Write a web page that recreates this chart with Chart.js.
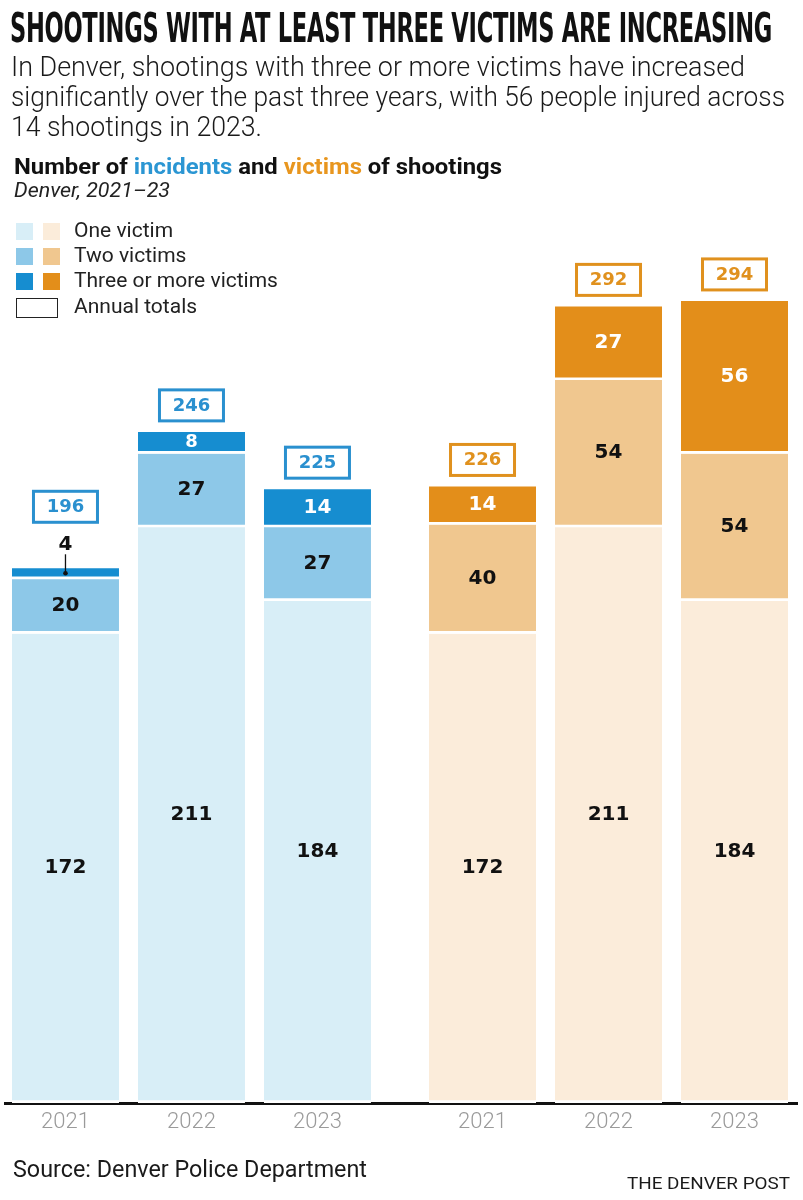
<!DOCTYPE html>
<html>
<head>
<meta charset="utf-8">
<script src="https://cdn.jsdelivr.net/npm/chart.js"></script>
<style>
    body { margin: 0; background: #fff; }
    #wrap { position: relative; width: 803px; height: 1200px; overflow: hidden; }
    #chart { position: absolute; left: 0; top: 0; }
    .txt { position: absolute; white-space: nowrap; color: #111; transform-origin: 0 0; }
    #title { left: 10px; top: 4px; font-family: "Liberation Sans Narrow", "DejaVu Sans Condensed", sans-serif; font-weight: bold; font-size: 41px; letter-spacing: -0.5px; }
    .sub { left: 11px; font-family: Roboto, sans-serif; font-weight: 300; font-size: 28px; color: #1a1a1a; }
    #head { left: 14px; top: 154px; font-family: Roboto, sans-serif; font-weight: bold; font-size: 22px; }
    #dek { left: 14px; top: 178px; font-family: Roboto, sans-serif; font-style: italic; font-size: 21px; color: #222; }
    .sw { position: absolute; width: 17px; height: 17px; }
    .lg { position: absolute; left: 74px; font-family: Roboto, sans-serif; font-size: 21px; color: #222; }
    #src { left: 13px; top: 1155px; font-family: "Liberation Sans Narrow", Roboto, sans-serif; font-size: 24px; color: #1a1a1a; }
    #brand { left: 627px; top: 1173px; font-family: "Liberation Sans Narrow", Roboto, sans-serif; font-size: 17px; color: #1a1a1a; }
</style>
</head>
<body>
<div id="wrap">
    <canvas id="chart" width="803" height="1200"></canvas>

    <div class="txt fit" id="title" data-w="762">SHOOTINGS WITH AT LEAST THREE VICTIMS ARE INCREASING</div>
    <div class="txt sub fit" style="top:50px" data-w="734">In Denver, shootings with three or more victims have increased</div>
    <div class="txt sub fit" style="top:80px" data-w="774">significantly over the past three years, with 56 people injured across</div>
    <div class="txt sub fit" style="top:110px" data-w="251">14 shootings in 2023.</div>

    <div class="txt fit" id="head" data-w="488">Number of <span style="color:#2b96d3">incidents</span> and <span style="color:#e8961f">victims</span> of shootings</div>
    <div class="txt fit" id="dek" data-w="156">Denver, 2021–23</div>

    <div class="sw" style="left:16px;top:223px;background:#d8eef7"></div>
    <div class="sw" style="left:43px;top:223px;background:#fbecda"></div>
    <div class="sw" style="left:16px;top:248px;background:#8dc8e8"></div>
    <div class="sw" style="left:43px;top:248px;background:#f0c78f"></div>
    <div class="sw" style="left:16px;top:273px;background:#168dd0"></div>
    <div class="sw" style="left:43px;top:273px;background:#e38e1a"></div>
    <div class="sw" style="left:16px;top:298px;width:40px;height:18px;border:1.5px solid #222;"></div>
    <div class="lg" style="top:218px">One victim</div>
    <div class="lg" style="top:243px">Two victims</div>
    <div class="lg" style="top:268px">Three or more victims</div>
    <div class="lg" style="top:294px">Annual totals</div>

    <div class="txt fit" id="src" data-w="354">Source: Denver Police Department</div>
    <div class="txt fit" id="brand" data-w="163">THE DENVER POST</div>
</div>

<script>
    // data
    const years = ['2021', '2022', '2023']
    const incidentsOne = [172, 211, 184]
    const incidentsTwo = [20, 27, 27]
    const incidentsThree = [4, 8, 14]
    const victimsOne = [172, 211, 184]
    const victimsTwo = [40, 54, 54]
    const victimsThree = [14, 27, 56]

    const blues = ['#d8eef7', '#8dc8e8', '#168dd0']
    const oranges = ['#fbecda', '#f0c78f', '#e38e1a']
    const boxBlue = '#2a90cf'
    const boxOrange = '#e0911e'

    // the victims group sits a bit further right than one step
    const groupGap = 0.31
    const positions = [0, 1, 2, 3 + groupGap, 4 + groupGap, 5 + groupGap]
    const tickLabels = years.concat(years)

    // squeeze text to the width it has in the picture
    document.querySelectorAll('.fit').forEach(el => {
        const w = el.getBoundingClientRect().width
        const target = +el.dataset.w
        el.style.transform = 'scaleX(' + (target / w) + ')'
    })

    const series = [
        incidentsOne.concat(victimsOne),
        incidentsTwo.concat(victimsTwo),
        incidentsThree.concat(victimsThree)
    ]

    let _datasets = []
    for (let k = 0; k < 3; k++) {
        _datasets.push({
            data: series[k].map((v, i) => ({ x: positions[i], y: v })),
            backgroundColor: positions.map((p, i) => i < 3 ? blues[k] : oranges[k]),
            borderColor: '#fff',
            borderWidth: { top: 0, left: 0, right: 0, bottom: 3 },
            borderSkipped: false,
            barThickness: 107
        })
    }

    const labelPlugin = {
        id: 'labels',
        afterDatasetsDraw(chart) {
            const ctx = chart.ctx
            ctx.save()
            ctx.textAlign = 'center'
            ctx.textBaseline = 'middle'
            const metas = [0, 1, 2].map(k => chart.getDatasetMeta(k))
            for (let i = 0; i < positions.length; i++) {
                let smallTop = false
                for (let k = 0; k < 3; k++) {
                    const bar = metas[k].data[i]
                    const value = series[k][i]
                    const h = bar.base - 3 - bar.y
                    ctx.font = 'bold 20px "DejaVu Sans"'
                    if (h < 14) {
                        // label above with a leader line
                        smallTop = true
                        ctx.fillStyle = '#111'
                        ctx.fillText(value, bar.x, bar.y - 23)
                        ctx.strokeStyle = '#111'
                        ctx.lineWidth = 1.3
                        ctx.beginPath()
                        ctx.moveTo(bar.x, bar.y - 14)
                        ctx.lineTo(bar.x, bar.y + 5)
                        ctx.stroke()
                        ctx.beginPath()
                        ctx.arc(bar.x, bar.y + 5, 2.3, 0, Math.PI * 2)
                        ctx.fill()
                    } else {
                        ctx.fillStyle = k === 2 ? '#fff' : '#111'
                        ctx.font = h < 22 ? 'bold 18px "DejaVu Sans"' : 'bold 20px "DejaVu Sans"'
                        ctx.fillText(value, bar.x, (bar.y + bar.base - 3) / 2 + 1)
                    }
                }
                // annual total box
                const top = metas[2].data[i]
                const total = series[0][i] + series[1][i] + series[2][i]
                const cy = top.y - (smallTop ? 62 : 27)
                const col = i < 3 ? boxBlue : boxOrange
                ctx.strokeStyle = col
                ctx.lineWidth = 3
                ctx.strokeRect(top.x - 32, cy - 15, 64, 31)
                ctx.fillStyle = col
                ctx.font = 'bold 18px "DejaVu Sans"'
                ctx.fillText(total, top.x, cy + 1)
            }
            ctx.restore()
        }
    }

    const myChart = new Chart(document.getElementById('chart'), {
        type: 'bar',
        data: { datasets: _datasets },
        plugins: [labelPlugin],
        options: {
            responsive: false,
            animation: false,
            layout: { padding: { left: 5, right: 6, top: 230, bottom: 0 } },
            plugins: {
                legend: { display: false },
                tooltip: { enabled: false }
            },
            scales: {
                x: {
                    type: 'linear',
                    stacked: true,
                    offset: false,
                    min: -0.48,
                    max: 5.806,
                    grid: { display: false },
                    border: { display: true, color: '#111', width: 3 },
                    afterBuildTicks: scale => {
                        scale.ticks = positions.map(p => ({ value: p }))
                    },
                    afterFit: scale => {
                        scale.height = 97
                    },
                    ticks: {
                        autoSkip: false,
                        maxRotation: 0,
                        padding: -2,
                        color: '#9a9a9a',
                        font: { family: 'Roboto', weight: '300', size: 22 },
                        callback: (value, index) => tickLabels[index]
                    }
                },
                y: {
                    display: false,
                    stacked: true,
                    min: 0,
                    max: 320
                }
            }
        }
    })
</script>
</body>
</html>
